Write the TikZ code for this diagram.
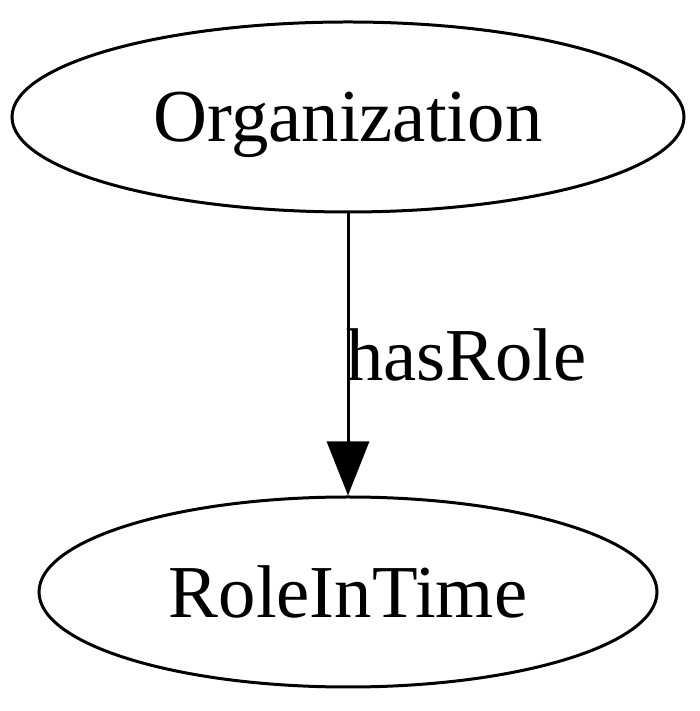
\documentclass[tikz,border=0pt]{standalone}
\usepackage{fontspec}
\setmainfont{Liberation Serif}
\usetikzlibrary{shapes.geometric,arrows.meta}
\begin{document}
\begin{tikzpicture}[x=1pt,y=1pt,
  gvnode/.style={draw, ellipse, line width=3pt, inner sep=0pt, text depth=0pt, font=\fontsize{74.7}{90}\selectfont},
  gvedge/.style={line width=3pt, -{Triangle[length=54pt,width=42pt]}},
  gvlabel/.style={anchor=west, inner sep=0pt, font=\fontsize{74.7}{90}\selectfont}]
\useasboundingbox (0,0) rectangle (700,711);
\node[gvnode, minimum width=672pt, minimum height=190pt] (org) at (348,594) {Organization};
\node[gvnode, minimum width=618pt, minimum height=190pt] (role) at (348,119) {RoleInTime};
\draw[gvedge] (org) -- (role);
\node[gvlabel] (lbl) at (346,356) {hasRole};
\end{tikzpicture}
\end{document}
